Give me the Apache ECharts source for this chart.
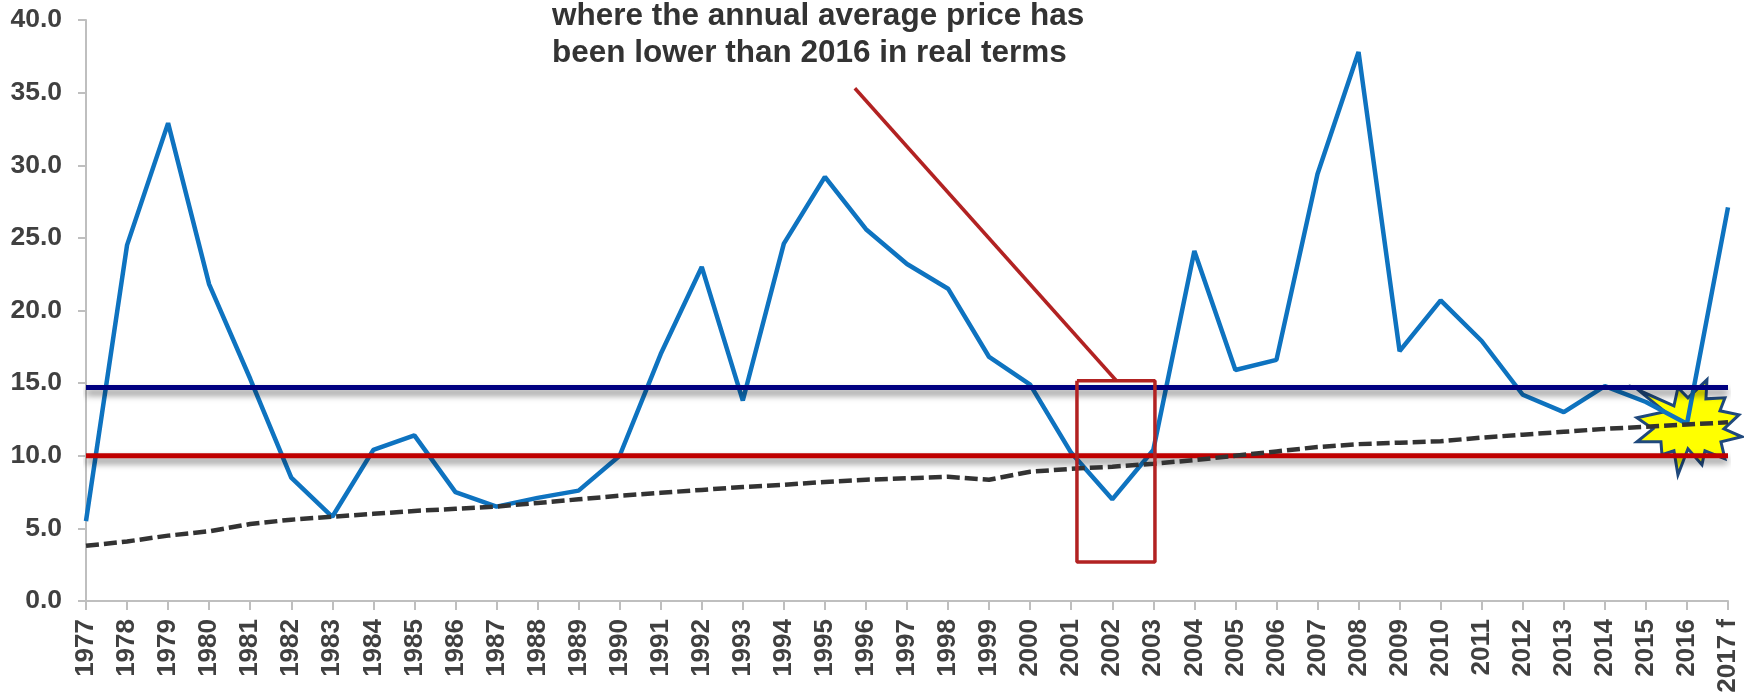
<!DOCTYPE html>
<html>
<head>
<meta charset="utf-8">
<script src="https://cdn.jsdelivr.net/npm/echarts@6/dist/echarts.min.js"></script>
<style>
  html, body { margin: 0; padding: 0; background: #fff; }
  #chart { width: 1744px; height: 694px; }
</style>
</head>
<body>
<div id="chart"></div>
<script>
const years = ['1977','1978','1979','1980','1981','1982','1983','1984','1985','1986','1987','1988','1989','1990','1991','1992','1993','1994','1995','1996','1997','1998','1999','2000','2001','2002','2003','2004','2005','2006','2007','2008','2009','2010','2011','2012','2013','2014','2015','2016','2017 f']
const price = [5.5,24.5,32.9,21.8,15.3,8.5,5.8,10.4,11.4,7.5,6.5,7.1,7.6,10.0,17.0,23.0,13.8,24.6,29.2,25.6,23.2,21.5,16.8,14.9,10.2,7.0,10.4,24.1,15.9,16.6,29.4,37.8,17.2,20.7,17.9,14.2,13.0,14.8,13.7,12.2,27.1]
const trend = [3.8,4.1,4.5,4.8,5.3,5.6,5.8,6.0,6.2,6.35,6.5,6.75,7.0,7.25,7.45,7.65,7.85,8.0,8.2,8.35,8.45,8.55,8.35,8.9,9.1,9.25,9.45,9.7,10.0,10.3,10.6,10.8,10.9,11.0,11.25,11.45,11.65,11.85,12.0,12.15,12.3]
const upperLevel = years.map(() => 14.7)
const lowerLevel = years.map(() => 10)
// callout, in [year index, price] so it can sit between categories
const calloutBox = [[24.14,15.17],[26.04,15.17],[26.04,2.68],[24.14,2.68],[24.14,15.17]]
const calloutLeader = [[18.73,35.3],[25.09,15.2]]
const noteLines = ['where the annual average price has', 'been lower than 2016 in real terms']

const chart = echarts.init(document.getElementById('chart'))

const flatLine = (data, color) => ({
  type: 'line',
  data,
  symbol: 'none',
  silent: true,
  z: 3,
  lineStyle: {
    color,
    width: 5,
    shadowColor: 'rgba(0,0,0,0.5)',
    shadowBlur: 7,
    shadowOffsetY: 5
  }
})

const calloutLine = data => ({
  type: 'line',
  xAxisIndex: 1,
  data,
  symbol: 'none',
  silent: true,
  z: 6,
  lineStyle: { color: '#b22222', width: 3.5 }
})

// star burst outline, pixel offsets from the 2016 point
const starOutline = [[-50,-6],[-22,-12],[-49,-34],[-13,-18],[-9,-36],[1,-26],[20,-44],[19,-25],[38,-26],[33,-13],[52,-9],[37,5],[55,13],[34,18],[38,35],[18,27],[15,41],[1,25],[-9,51],[-13,27],[-25,31],[-26,18],[-50,18],[-34,5]]
const renderStar = (params, api) => {
  const c = api.coord([api.value(0), api.value(1)])
  return {
    type: 'polygon',
    shape: { points: starOutline.map(p => [c[0] + p[0], c[1] + p[1]]) },
    style: { fill: '#ffff00', stroke: '#1f497d', lineWidth: 3 }
  }
}

chart.setOption({
  animation: false,
  grid: { left: 86, right: 16, top: 20, bottom: 93, outerBoundsMode: 'none' },
  xAxis: [
    {
      type: 'category',
      data: years,
      boundaryGap: false,
      axisLine: { lineStyle: { color: '#bfbfbf', width: 2 } },
      axisTick: { length: 9, lineStyle: { color: '#bfbfbf', width: 2 } },
      axisLabel: {
        interval: 0,
        rotate: 90,
        margin: 18,
        color: '#404040',
        fontFamily: 'Liberation Sans',
        fontWeight: 'bold',
        fontSize: 26
      }
    },
    // hidden twin axis, category axes snap to whole years
    { type: 'value', min: 0, max: 40, show: false }
  ],
  yAxis: {
    type: 'value',
    min: 0,
    max: 40,
    interval: 5,
    splitLine: { show: false },
    axisLine: { show: true, lineStyle: { color: '#bfbfbf', width: 2 } },
    axisTick: { show: true, length: 8, lineStyle: { color: '#bfbfbf', width: 2 } },
    axisLabel: {
      margin: 24,
      color: '#404040',
      fontFamily: 'Liberation Sans',
      fontWeight: 'bold',
      fontSize: 26.5,
      formatter: v => v.toFixed(1)
    }
  },
  series: [
    {
      type: 'custom',
      renderItem: renderStar,
      data: [[39, 12.2]],
      silent: true,
      z: 1
    },
    {
      type: 'line',
      data: price,
      symbol: 'none',
      z: 2,
      lineStyle: { color: '#0e73c0', width: 4.5 }
    },
    flatLine(upperLevel, '#000080'),
    flatLine(lowerLevel, '#c00000'),
    {
      type: 'line',
      data: trend,
      symbol: 'none',
      z: 5,
      lineStyle: { color: '#333333', width: 4.5, type: [13, 5] }
    },
    calloutLine(calloutBox),
    calloutLine(calloutLeader)
  ],
  graphic: noteLines.map((text, i) => ({
    type: 'text',
    left: 552,
    top: i * 37,
    style: {
      text,
      fill: '#333333',
      font: 'bold 31.5px "Liberation Sans"'
    }
  }))
})
</script>
</body>
</html>
